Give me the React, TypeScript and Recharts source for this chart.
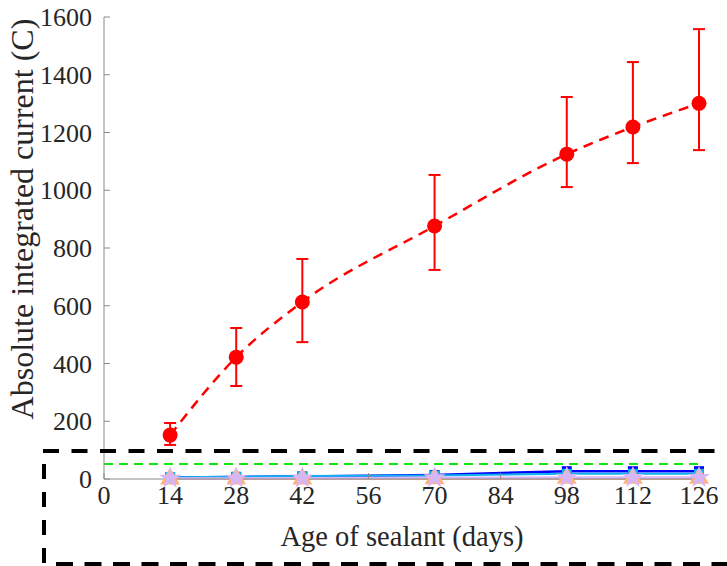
import React from 'react';
import { ComposedChart, Line, XAxis, YAxis, ErrorBar, ReferenceLine, Symbols } from 'recharts';

const days = [14, 28, 42, 70, 98, 112, 126];
const redMean = [152, 422, 613, 876, 1125, 1219, 1301];
const redUpper = [194, 523, 762, 1053, 1323, 1444, 1558];
const redLower = [118, 322, 474, 724, 1011, 1094, 1139];
const blueDark = [5, 7, 9, 14, 27, 27, 27];
const blueLight = [6, 8, 10, 12, 18, 18, 18];
const orangeVals = [1, 1, 1, 2, 3, 3, 3];
const lavenderVals = [2, 2, 3, 4, 5, 5, 5];
const brownVals = [0, 0, 1, 1, 1, 1, 1];
const greenLevel = 52;
const xTicks = [0, 14, 28, 42, 56, 70, 84, 98, 112, 126];
const yTicks = [0, 200, 400, 600, 800, 1000, 1200, 1400, 1600];

const data = days.map((d, i) => ({
  day: d,
  red: redMean[i],
  redErr: [redMean[i] - redLower[i], redUpper[i] - redMean[i]],
  blueDark: blueDark[i],
  blueLight: blueLight[i],
  orange: orangeVals[i],
  lavender: lavenderVals[i],
  brown: brownVals[i],
}));

const FONT = "'Liberation Serif', 'Times New Roman', Times, serif";
const AXIS = '#8a8a8a';
const TXT = '#262626';
const TICK_FS = 26;
const XLABEL_FS = 28.5;
const YLABEL_FS = 32;

const squareDot = (color: string) => (p: any) => (
  <rect key={`sq-${color}-${p.index}`} x={p.cx - 5} y={p.cy - 5} width={10} height={10} fill={color} />
);
const symDot = (type: any, color: string, size: number) => (p: any) => (
  <Symbols key={`sy-${type}-${p.index}`} cx={p.cx} cy={p.cy} type={type} size={size} fill={color} stroke="none" />
);
const redDot = (p: any) => <circle key={`rd-${p.index}`} cx={p.cx} cy={p.cy} r={7.5} fill="#ff0000" />;

const XTick = (p: any) => (
  <text x={p.x} y={p.y} dy="0.71em" textAnchor="middle" fill={TXT} fontSize={TICK_FS} style={{ fontFamily: FONT }}>
    {p.payload.value}
  </text>
);
const YTick = (p: any) => (
  <text x={p.x} y={p.y} dy="0.355em" textAnchor="end" fill={TXT} fontSize={TICK_FS} style={{ fontFamily: FONT }}>
    {p.payload.value}
  </text>
);

export default function App() {
  return (
    <div style={{ position: 'absolute', left: 0, top: 0, width: 727, height: 566, background: '#fff', fontFamily: FONT }}>
      <ComposedChart
        width={727}
        height={566}
        data={data}
        margin={{ top: 17, right: 28, bottom: 27, left: 24 }}
        style={{ fontFamily: FONT }}
      >
        <XAxis
          xAxisId="bottom"
          dataKey="day"
          type="number"
          domain={[0, 126]}
          ticks={xTicks}
          height={60}
          stroke={AXIS}
          tickSize={-6}
          tickMargin={13}
          tick={<XTick />}
          label={(props: any) => (
            <text
              x={402}
              y={536}
              textAnchor="middle"
              dominantBaseline="central"
              fill={TXT}
              fontSize={XLABEL_FS}
              style={{ fontFamily: FONT }}
            >
              Age of sealant (days)
            </text>
          )}
        />
        <XAxis
          xAxisId="top"
          dataKey="day"
          type="number"
          orientation="top"
          domain={[0, 126]}
          ticks={xTicks}
          height={0}
          stroke={AXIS}
          tickSize={-6}
          tickFormatter={() => ''}
        />
        <YAxis
          yAxisId="left"
          type="number"
          domain={[0, 1600]}
          ticks={yTicks}
          width={80}
          stroke={AXIS}
          tickSize={-6}
          tickMargin={18}
          tick={<YTick />}
          label={(props: any) => (
            <text
              x={22}
              y={219}
              transform="rotate(-90, 22, 219)"
              textAnchor="middle"
              dominantBaseline="central"
              fill={TXT}
              fontSize={YLABEL_FS}
              style={{ fontFamily: FONT }}
            >
              Absolute integrated current (C)
            </text>
          )}
        />
        <YAxis
          yAxisId="right"
          orientation="right"
          type="number"
          domain={[0, 1600]}
          ticks={yTicks}
          width={0}
          stroke={AXIS}
          tickSize={-6}
          tickFormatter={() => ''}
        />
        <ReferenceLine
          xAxisId="bottom"
          yAxisId="left"
          y={greenLevel}
          stroke="#12e612"
          strokeWidth={2}
          strokeDasharray="9 6"
        />
        <Line xAxisId="bottom" yAxisId="left" dataKey="brown" stroke="#c0603a" strokeWidth={1.5} dot={false} isAnimationActive={false} />
        <Line xAxisId="bottom" yAxisId="left" dataKey="blueDark" stroke="#0000ff" strokeWidth={2.5} dot={squareDot('#0000ff')} isAnimationActive={false} />
        <Line xAxisId="bottom" yAxisId="left" dataKey="blueLight" stroke="#10b0f0" strokeWidth={2} dot={squareDot('#10b0f0')} isAnimationActive={false} />
        <Line xAxisId="bottom" yAxisId="left" dataKey="orange" stroke="#ffb080" strokeWidth={2} dot={symDot('triangle', '#ffb080', 170)} isAnimationActive={false} />
        <Line xAxisId="bottom" yAxisId="left" dataKey="lavender" stroke="#d8b6f4" strokeWidth={2.5} dot={symDot('star', '#d8b6f4', 150)} isAnimationActive={false} />
        <Line
          xAxisId="bottom"
          yAxisId="left"
          dataKey="red"
          type="monotone"
          stroke="#ff0000"
          strokeWidth={2.5}
          strokeDasharray="10 7"
          dot={redDot}
          isAnimationActive={false}
        >
          <ErrorBar dataKey="redErr" direction="y" width={6} stroke="#ff0000" strokeWidth={2} />
        </Line>
      </ComposedChart>
      <svg width={727} height={566} style={{ position: 'absolute', left: 0, top: 0, pointerEvents: 'none' }}>
        <line x1={43} y1={451} x2={727} y2={451} stroke="#000" strokeWidth={4} strokeDasharray="16 12.5" />
        <line x1={44} y1={464} x2={44} y2={564} stroke="#000" strokeWidth={4} strokeDasharray="15 13" />
        <line x1={56} y1={564} x2={727} y2={564} stroke="#000" strokeWidth={4} strokeDasharray="17 11.5" />
      </svg>
    </div>
  );
}
